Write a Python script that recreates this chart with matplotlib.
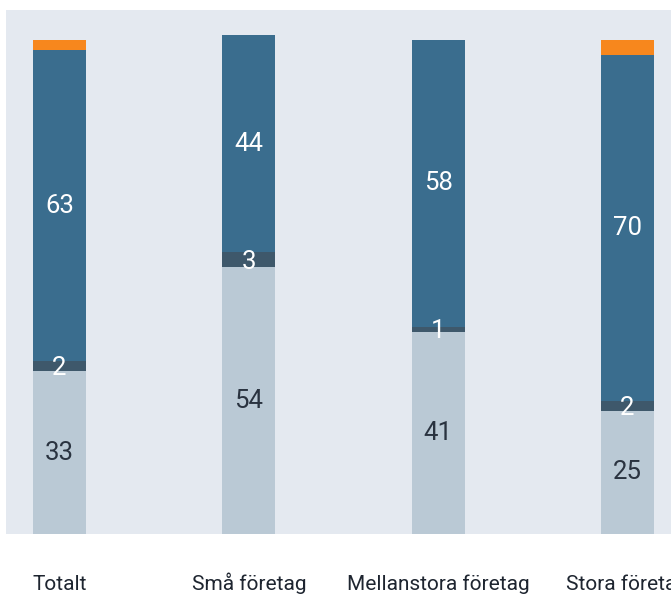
import matplotlib
matplotlib.use("Agg")
import matplotlib.pyplot as plt
import numpy as np

categories = ["Totalt", "Små företag", "Mellanstora företag", "Stora företag"]
light_vals = [33, 54, 41, 25]
dark_vals = [2, 3, 1, 2]
blue_vals = [63, 44, 58, 70]
orange_vals = [2, 0, 0, 3]

fam = ["Roboto", "DejaVu Sans"]

W, H = 671, 597
fig = plt.figure(figsize=(W/100, H/100), dpi=100)
fig.patch.set_facecolor("white")
left, right, top, bottom = 6, 671, 10, 534
ax = fig.add_axes([left/W, 1-bottom/H, (right-left)/W, (bottom-top)/H])
ax.set_facecolor("#e4e9f0")
for s in ax.spines.values():
    s.set_visible(False)

x = np.arange(len(categories))
bw = 0.28
c_light, c_dark, c_blue, c_orange = "#bac9d5", "#3e586b", "#3a6d8e", "#f7871d"
b1 = np.array(light_vals, float)
b2 = b1 + np.array(dark_vals)
b3 = b2 + np.array(blue_vals)
ax.bar(x, light_vals, bw, color=c_light)
ax.bar(x, dark_vals, bw, bottom=b1, color=c_dark)
ax.bar(x, blue_vals, bw, bottom=b2, color=c_blue)
ax.bar(x, orange_vals, bw, bottom=b3, color=c_orange)

fs = 18.5
for i in range(len(x)):
    ax.text(x[i], light_vals[i]/2, str(light_vals[i]), ha="center", va="center",
            color="#2a3340", fontsize=fs, family=fam)
    ax.text(x[i], b1[i] + dark_vals[i]/2 - 0.4, str(dark_vals[i]), ha="center", va="center",
            color="white", fontsize=fs, family=fam)
    ax.text(x[i], b2[i] + blue_vals[i]/2, str(blue_vals[i]), ha="center", va="center",
            color="white", fontsize=fs, family=fam)

ax.set_xlim(-0.283, 3.23)
ax.set_ylim(0, 106.1)
ax.set_xticks(x)
ax.set_xticklabels(categories, fontsize=15, family=fam, color="#1e2530")
for lbl in ax.get_xticklabels():
    lbl.set_verticalalignment("baseline")
ax.tick_params(axis="x", length=0, pad=40)
ax.set_yticks([])

fig.savefig("out.png", dpi=100, facecolor="white")
